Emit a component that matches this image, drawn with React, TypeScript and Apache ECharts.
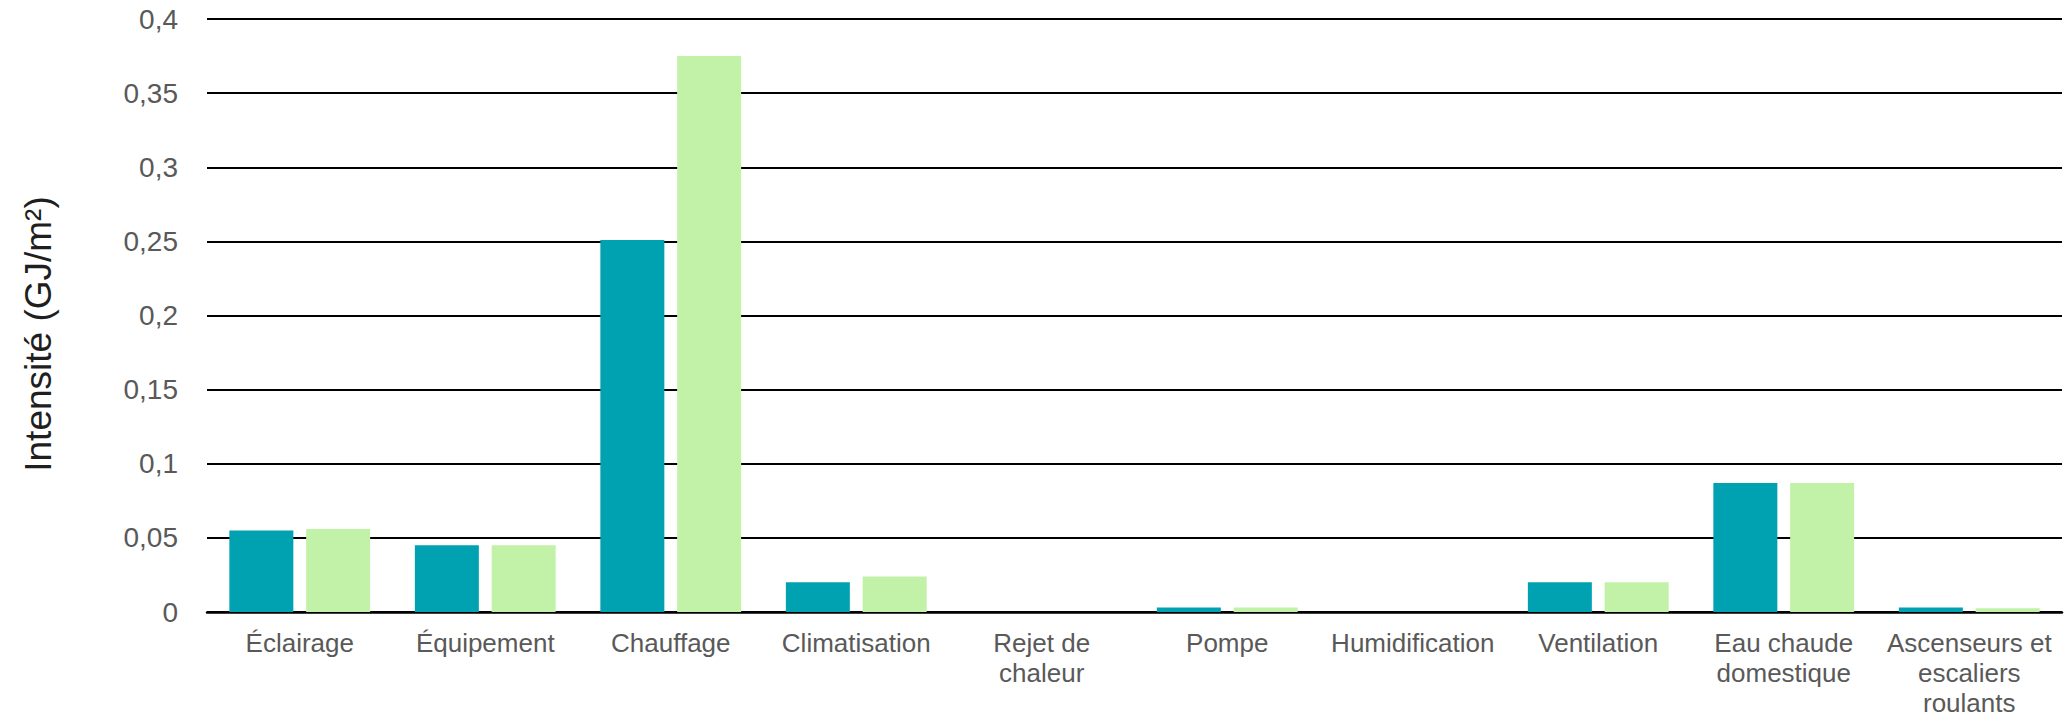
import React, { useEffect, useRef } from "react";
import * as echarts from "echarts";

// End-use categories along the x axis
const categories = [
  "Éclairage",
  "Équipement",
  "Chauffage",
  "Climatisation",
  "Rejet de\nchaleur",
  "Pompe",
  "Humidification",
  "Ventilation",
  "Eau chaude\ndomestique",
  "Ascenseurs et\nescaliers\nroulants",
];

// Energy intensity per end use (GJ/m²)
const seriesA = [0.055, 0.045, 0.251, 0.02, 0, 0.003, 0, 0.02, 0.087, 0.003];
const seriesB = [0.056, 0.045, 0.375, 0.024, 0, 0.003, 0, 0.02, 0.087, 0.0025];

const yTicks = { min: 0, max: 0.4, interval: 0.05 };
const yTitle = "Intensité (GJ/m²)";

const FONT = "'Liberation Sans', Arial, Helvetica, sans-serif";

export default function App() {
  const ref = useRef<HTMLDivElement>(null);

  useEffect(() => {
    if (!ref.current) return;
    const chart = echarts.init(ref.current, undefined, { renderer: "svg" });
    chart.setOption({
      animation: false,
      backgroundColor: "#ffffff",
      textStyle: { fontFamily: FONT },
      grid: { left: 207, right: 7, top: 19, bottom: 107, containLabel: false },
      graphic: [
        {
          type: "text",
          x: 38,
          y: 334,
          rotation: Math.PI / 2,
          style: {
            text: yTitle,
            font: `37px ${FONT}`,
            fill: "#1f1f1f",
            align: "center",
            verticalAlign: "middle",
          },
        },
      ],
      xAxis: {
        type: "category",
        data: categories,
        axisLine: { show: true, lineStyle: { color: "#000000", width: 2.5 } },
        axisTick: { show: false },
        splitLine: { show: false },
        axisLabel: {
          interval: 0,
          margin: 16,
          color: "#595959",
          fontSize: 26,
          lineHeight: 30,
          fontFamily: FONT,
          align: "center",
        },
      },
      yAxis: {
        type: "value",
        min: yTicks.min,
        max: yTicks.max,
        interval: yTicks.interval,
        axisLine: { show: false },
        axisTick: { show: false },
        splitLine: { show: true, lineStyle: { color: "#000000", width: 2 } },
        axisLabel: {
          margin: 29,
          color: "#595959",
          fontSize: 28,
          fontFamily: FONT,
          formatter: (v: number) => String(Number(v.toFixed(2))).replace(".", ","),
        },
      },
      series: [
        {
          type: "bar",
          data: seriesA,
          barWidth: 64,
          barGap: "20%",
          itemStyle: { color: "#00A2B2" },
        },
        {
          type: "bar",
          data: seriesB,
          barWidth: 64,
          barGap: "20%",
          itemStyle: { color: "#C1F2A7" },
        },
      ],
    });
    return () => chart.dispose();
  }, []);

  return (
    <div
      ref={ref}
      style={{ position: "fixed", left: 0, top: 0, width: 2069, height: 719 }}
    />
  );
}
